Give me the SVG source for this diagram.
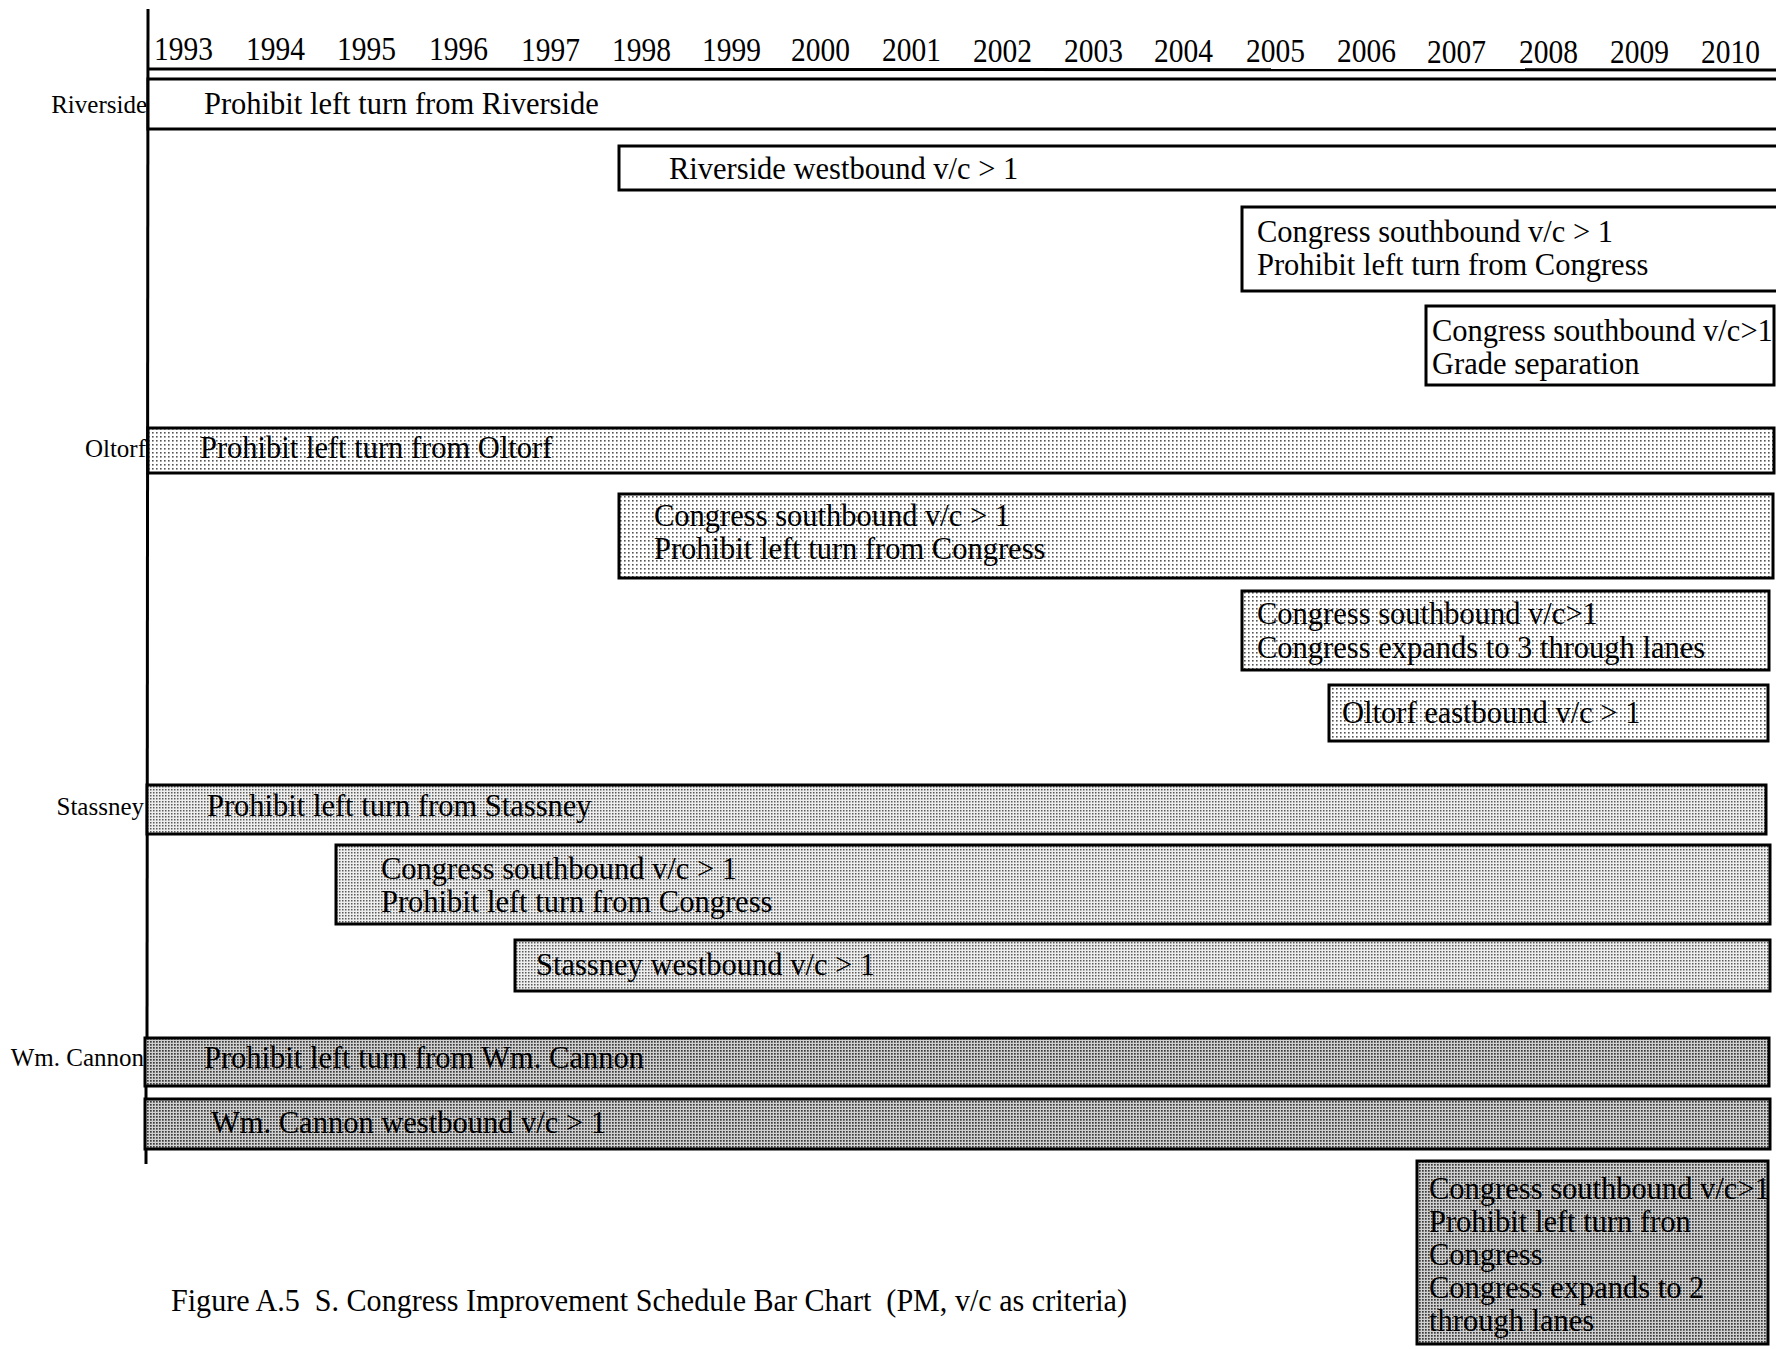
<svg xmlns="http://www.w3.org/2000/svg" width="1776" height="1349" viewBox="0 0 1776 1349">
<defs>
<pattern id="pO" width="4" height="4" patternUnits="userSpaceOnUse">
<rect width="4" height="4" fill="#ffffff"/>
<rect width="1.6" height="1.6" fill="#555"/>
</pattern>
<pattern id="pS" width="3" height="3" patternUnits="userSpaceOnUse">
<rect width="3" height="3" fill="#eeeeee"/>
<rect width="1.5" height="1.5" fill="#5a5a5a"/>
</pattern>
<pattern id="pW" width="3" height="3" patternUnits="userSpaceOnUse">
<rect width="3" height="3" fill="#d0d0d0"/>
<rect width="1.7" height="1.7" fill="#3a3a3a"/>
</pattern>
</defs>
<style>
text{font-family:"Liberation Serif","Times New Roman",serif;fill:#000;}
.yr{font-size:33px;}
.bt{font-size:30.5px;}
.lbl{font-size:25px;text-anchor:end;}
.cap{font-size:31px;white-space:pre;}
.bar{stroke:#000;stroke-width:3;}
.w{fill:#fff;}
.o{fill:url(#pO);}
.s{fill:url(#pS);}
.m{fill:url(#pW);}
.ax{stroke:#000;stroke-width:3;fill:none;}
</style>
<rect width="1776" height="1349" fill="#fff"/>

<g id="connectors">
<line class="ax" x1="148" y1="9" x2="147" y2="1040"/>
<line class="ax" x1="146" y1="1086" x2="146" y2="1164"/>
<line class="ax" x1="148" y1="69" x2="1776" y2="70"/>
</g>

<g id="years">
<text class="yr" x="154" y="60" textLength="59" lengthAdjust="spacingAndGlyphs">1993</text>
<text class="yr" x="246" y="60" textLength="59" lengthAdjust="spacingAndGlyphs">1994</text>
<text class="yr" x="337" y="60" textLength="59" lengthAdjust="spacingAndGlyphs">1995</text>
<text class="yr" x="429" y="60" textLength="59" lengthAdjust="spacingAndGlyphs">1996</text>
<text class="yr" x="521" y="61" textLength="59" lengthAdjust="spacingAndGlyphs">1997</text>
<text class="yr" x="612" y="61" textLength="59" lengthAdjust="spacingAndGlyphs">1998</text>
<text class="yr" x="702" y="61" textLength="59" lengthAdjust="spacingAndGlyphs">1999</text>
<text class="yr" x="791" y="61" textLength="59" lengthAdjust="spacingAndGlyphs">2000</text>
<text class="yr" x="882" y="61" textLength="59" lengthAdjust="spacingAndGlyphs">2001</text>
<text class="yr" x="973" y="62" textLength="59" lengthAdjust="spacingAndGlyphs">2002</text>
<text class="yr" x="1064" y="62" textLength="59" lengthAdjust="spacingAndGlyphs">2003</text>
<text class="yr" x="1154" y="62" textLength="59" lengthAdjust="spacingAndGlyphs">2004</text>
<text class="yr" x="1246" y="62" textLength="59" lengthAdjust="spacingAndGlyphs">2005</text>
<text class="yr" x="1337" y="62" textLength="59" lengthAdjust="spacingAndGlyphs">2006</text>
<text class="yr" x="1427" y="63" textLength="59" lengthAdjust="spacingAndGlyphs">2007</text>
<text class="yr" x="1519" y="63" textLength="59" lengthAdjust="spacingAndGlyphs">2008</text>
<text class="yr" x="1610" y="63" textLength="59" lengthAdjust="spacingAndGlyphs">2009</text>
<text class="yr" x="1701" y="63" textLength="59" lengthAdjust="spacingAndGlyphs">2010</text>
</g>

<g id="lbl-riverside"><text class="lbl" x="147" y="113">Riverside</text></g>
<g id="lbl-oltorf"><text class="lbl" x="146" y="457">Oltorf</text></g>
<g id="lbl-stassney"><text class="lbl" x="144" y="815">Stassney</text></g>
<g id="lbl-wmcannon"><text class="lbl" x="144" y="1066">Wm. Cannon</text></g>

<g id="bar1">
<rect class="bar w" x="148" y="79" width="1630" height="50"/>
<text class="bt" x="204" y="114">Prohibit left turn from Riverside</text>
</g>
<g id="bar2">
<rect class="bar w" x="619" y="146" width="1159" height="44"/>
<text class="bt" x="669" y="179">Riverside westbound v/c &gt; 1</text>
</g>
<g id="bar3">
<rect class="bar w" x="1242" y="207" width="536" height="84"/>
<text class="bt" x="1257" y="242">Congress southbound v/c &gt; 1</text>
<text class="bt" x="1257" y="275">Prohibit left turn from Congress</text>
</g>
<g id="bar4">
<rect class="bar w" x="1426" y="306" width="348" height="79"/>
<text class="bt" x="1432" y="341">Congress southbound v/c&gt;1</text>
<text class="bt" x="1432" y="374">Grade separation</text>
</g>

<g id="bar5">
<rect class="bar o" x="148" y="428" width="1626" height="45"/>
<text class="bt" x="200" y="458">Prohibit left turn from Oltorf</text>
</g>
<g id="bar6">
<rect class="bar o" x="619" y="494" width="1154" height="84"/>
<text class="bt" x="654" y="526">Congress southbound v/c &gt; 1</text>
<text class="bt" x="654" y="559">Prohibit left turn from Congress</text>
</g>
<g id="bar7">
<rect class="bar o" x="1242" y="591" width="527" height="79"/>
<text class="bt" x="1257" y="624">Congress southbound v/c&gt;1</text>
<text class="bt" x="1257" y="658">Congress expands to 3 through lanes</text>
</g>
<g id="bar8">
<rect class="bar o" x="1329" y="685" width="439" height="56"/>
<text class="bt" x="1342" y="723">Oltorf eastbound v/c &gt; 1</text>
</g>

<g id="bar9">
<rect class="bar s" x="147" y="785" width="1619" height="49"/>
<text class="bt" x="207" y="816">Prohibit left turn from Stassney</text>
</g>
<g id="bar10">
<rect class="bar s" x="336" y="845" width="1434" height="79"/>
<text class="bt" x="381" y="879">Congress southbound v/c &gt; 1</text>
<text class="bt" x="381" y="912">Prohibit left turn from Congress</text>
</g>
<g id="bar11">
<rect class="bar s" x="515" y="940" width="1255" height="51"/>
<text class="bt" x="536" y="975">Stassney westbound v/c &gt; 1</text>
</g>

<g id="bar12">
<rect class="bar m" x="145" y="1038" width="1624" height="48"/>
<text class="bt" x="204" y="1068">Prohibit left turn from Wm. Cannon</text>
</g>
<g id="bar13">
<rect class="bar m" x="145" y="1099" width="1625" height="50"/>
<text class="bt" x="211" y="1133">Wm. Cannon westbound v/c &gt; 1</text>
</g>
<g id="bar14">
<rect class="bar m" x="1417" y="1161" width="351" height="183"/>
<text class="bt" x="1429" y="1199">Congress southbound v/c&gt;1</text>
<text class="bt" x="1429" y="1232">Prohibit left turn fron</text>
<text class="bt" x="1429" y="1265">Congress</text>
<text class="bt" x="1429" y="1298">Congress expands to 2</text>
<text class="bt" x="1429" y="1331">through lanes</text>
</g>

<g id="caption">
<text class="cap" x="171" y="1311" textLength="956" lengthAdjust="spacingAndGlyphs">Figure A.5  S. Congress Improvement Schedule Bar Chart  (PM, v/c as criteria)</text>
</g>
</svg>
